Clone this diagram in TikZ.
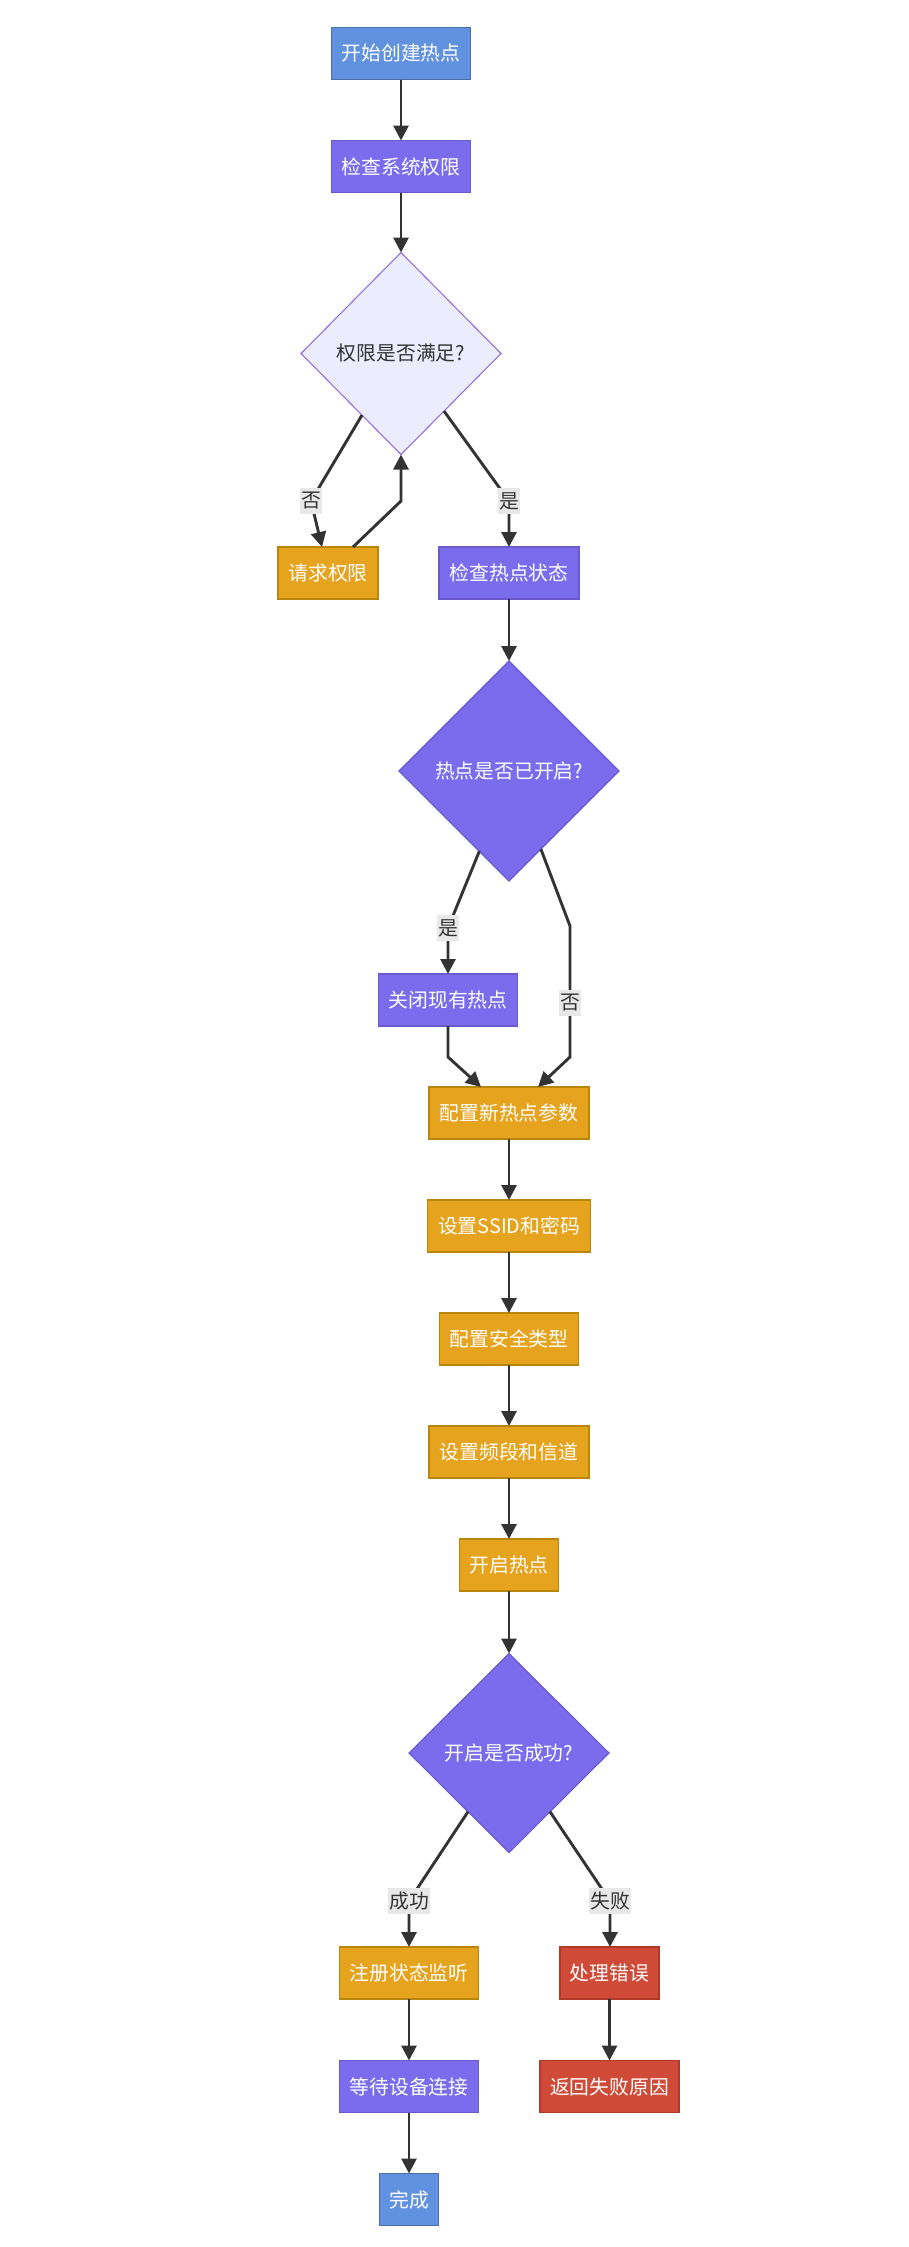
\documentclass[tikz,border=0pt]{standalone}
\usepackage{fontspec}
\setmainfont{Noto Sans CJK SC}
\usetikzlibrary{shapes.geometric,arrows.meta,calc}
\definecolor{blueF}{HTML}{6192E0}
\definecolor{blueS}{HTML}{4A6FA5}
\definecolor{purpF}{HTML}{7B6CEE}
\definecolor{purpS}{HTML}{6A5ACD}
\definecolor{orgF}{HTML}{E6A31E}
\definecolor{orgS}{HTML}{B8860B}
\definecolor{redF}{HTML}{CF4A37}
\definecolor{redS}{HTML}{B0392A}
\definecolor{lightF}{HTML}{ECECFF}
\definecolor{lightS}{HTML}{9370DB}
\definecolor{edgeC}{HTML}{333333}
\definecolor{lblF}{HTML}{E8E8E8}
\newcommand{\dgfont}{\fontsize{19.8pt}{23pt}\selectfont}
\begin{document}
\begin{tikzpicture}[x=1pt,y=-1pt,
  box/.style={draw, rectangle, minimum height=52pt, inner sep=0pt, outer sep=0pt, line width=1.3pt, text=white, font=\dgfont},
  bluebox/.style={box, fill=blueF, draw=blueS},
  purpbox/.style={box, fill=purpF, draw=purpS},
  orgbox/.style={box, fill=orgF, draw=orgS},
  redbox/.style={box, fill=redF, draw=redS},
  decision/.style={diamond, draw, inner sep=0pt, outer sep=0pt, line width=1.1pt, font=\dgfont},
  lightdec/.style={decision, fill=lightF, draw=lightS, text=edgeC},
  purpdec/.style={decision, fill=purpF, draw=purpS, text=white},
  edge/.style={draw=edgeC, line width=2.9pt, -{Triangle[length=15pt,width=15pt]}},
  lbl/.style={fill=lblF, text=edgeC, inner xsep=1pt, inner ysep=0pt, minimum height=26pt, font=\dgfont}
]
\useasboundingbox (0,0) rectangle (908,2247);
\fill[white] (0,0) rectangle (908,2247);

% nodes
\node[bluebox, minimum width=139pt] (b1) at (401,53.5) {开始创建热点};
\node[purpbox, minimum width=139pt] (b2) at (401,166.5) {检查系统权限};
\node[lightdec, minimum width=200pt, minimum height=202pt] (d1) at (401,353.5) {权限是否满足?};
\node[orgbox, minimum width=100pt] (qq) at (328,573) {请求权限};
\node[purpbox, minimum width=140pt] (ck) at (509,573) {检查热点状态};
\node[purpdec, minimum width=220pt, minimum height=220pt] (d2) at (509,771) {热点是否已开启?};
\node[purpbox, minimum width=139pt] (gb) at (448,1000) {关闭现有热点};
\node[orgbox, minimum width=160pt] (pz) at (509,1113) {配置新热点参数};
\node[orgbox, minimum width=163pt] (ss) at (509,1226) {设置SSID和密码};
\node[orgbox, minimum width=139pt] (aq) at (509,1339) {配置安全类型};
\node[orgbox, minimum width=160pt] (pd) at (509,1452) {设置频段和信道};
\node[orgbox, minimum width=99pt] (kq) at (509,1565) {开启热点};
\node[purpdec, minimum width=200pt, minimum height=199pt] (d3) at (509,1753) {开启是否成功?};
\node[orgbox, minimum width=139pt] (zc) at (409,1973) {注册状态监听};
\node[redbox, minimum width=99pt] (cl) at (609.5,1973) {处理错误};
\node[purpbox, minimum width=139pt] (dd) at (409,2086.5) {等待设备连接};
\node[redbox, minimum width=139pt] (fh) at (609.5,2086.5) {返回失败原因};
\node[bluebox, minimum width=59pt] (wc) at (409,2199.5) {完成};

% bend points
\coordinate (c1) at (311,501);
\coordinate (c2) at (401,501);
\coordinate (c3) at (509,501);
\coordinate (c4) at (448,928);
\coordinate (c5) at (570,926);
\coordinate (c6) at (570,1057);
\coordinate (c7) at (448,1057);
\coordinate (c8) at (409,1901);
\coordinate (c9) at (610,1901);

% edges
\draw[edge] (b1) -- (b2);
\draw[edge] (b2) -- (d1);
\draw[edge] ($(d1.west)!0.61!(d1.south)$) -- (c1) -- ($(qq.north)+(-6,0)$);
\draw[edge] ($(qq.north)+(25,0)$) -- (c2) -- (d1.south);
\draw[edge] ($(d1.east)!0.57!(d1.south)$) -- (c3) -- (ck.north);
\draw[edge] (ck) -- (d2);
\draw[edge] ($(d2.west)!0.73!(d2.south)$) -- (c4) -- (gb.north);
\draw[edge] ($(d2.east)!0.71!(d2.south)$) -- (c5) -- (c6) -- ($(pz.north)+(29,0)$);
\draw[edge] (gb.south) -- (c7) -- ($(pz.north)+(-28,0)$);
\draw[edge] (pz) -- (ss);
\draw[edge] (ss) -- (aq);
\draw[edge] (aq) -- (pd);
\draw[edge] (pd) -- (kq);
\draw[edge] (kq) -- (d3);
\draw[edge] ($(d3.west)!0.59!(d3.south)$) -- (c8) -- (zc.north);
\draw[edge] ($(d3.east)!0.59!(d3.south)$) -- (c9) -- ($(cl.north)+(0.5,0)$);
\draw[edge] (zc) -- (dd);
\draw[edge] (dd) -- (wc);
\draw[edge] (cl) -- (fh);

% edge labels
\node[lbl] (l1) at (c1) {否};
\node[lbl] (l2) at (c3) {是};
\node[lbl] (l3) at (c4) {是};
\node[lbl] (l4) at (570,1003) {否};
\node[lbl] (l5) at (c8) {成功};
\node[lbl] (l6) at (c9) {失败};
\end{tikzpicture}
\end{document}
